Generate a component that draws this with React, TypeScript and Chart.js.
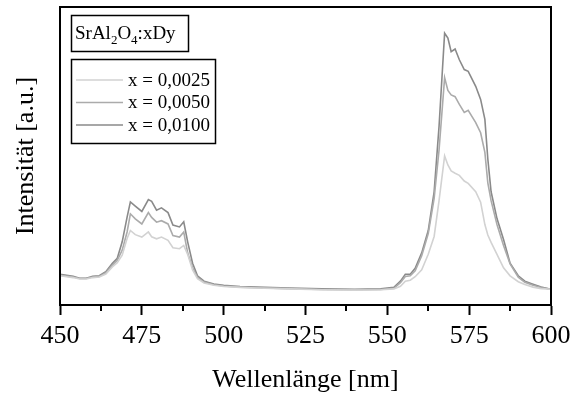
import React, { useEffect, useRef } from "react";
import { Chart, registerables } from "chart.js";

Chart.register(...registerables);

const wavelengths = [
  450, 452, 454, 456, 458, 460, 462, 464, 466, 467.5, 469, 470.5, 471.5, 473, 475, 477, 478, 479.5, 481, 483,
  484.5, 486.5, 487.8, 489, 490.5, 492, 494, 497, 500, 505, 510, 520, 530, 540, 548, 552, 554, 555.5, 557,
  558.5, 560.5, 562.5, 564.3, 565.8, 567.5, 568.5, 569.5, 570.7, 572, 573.5, 574.7, 577, 578.5, 579.8, 580.7,
  581.7, 583.5, 585.5, 587.5, 590, 592, 594.5, 597, 600,
];

const seriesLight = [
  9.8, 9.5, 9.2, 8.7, 8.7, 9.2, 9.4, 10.4, 12.8, 14.2, 16.7, 22.3, 25, 23.6, 22.8, 24.5, 22.9, 22.2, 22.8, 21.7,
  19.2, 18.9, 20, 17, 11.8, 8.8, 7.4, 6.6, 6.2, 5.9, 5.7, 5.4, 5.1, 5.0, 5.1, 5.4, 6.3, 8, 8.3,
  9.5, 11.8, 17, 23, 35, 50, 47, 45, 44.2, 43.5, 41.6, 40.8, 38, 34.5, 27, 23.5,
  21, 17, 12.5, 9.8, 7.8, 6.9, 6, 5.5, 5.3,
];

const seriesMedium = [
  10.0, 9.7, 9.4, 8.9, 8.9, 9.4, 9.6, 10.8, 13.4, 15, 18.4, 24.5, 30.6, 28.9, 27.2, 31, 29.4, 27.8, 28.3, 27.2,
  23.3, 22.8, 24.5, 17.5, 12.5, 9.3, 7.7, 6.8, 6.4, 6.0, 5.8, 5.5, 5.2, 5.1, 5.2, 5.6, 7.5, 9.6, 9.8,
  11.5, 16.5, 24, 35.8, 52, 76.3, 72, 70.5, 69.9, 67.3, 64.6, 65.3, 61.2, 57.8, 51.2, 41,
  35, 27, 20, 13.8, 9.3, 7.6, 6.6, 5.9, 5.3,
];

const seriesDark = [
  10.3, 10.0, 9.6, 9.0, 9.0, 9.6, 9.8, 11.2, 14, 15.7, 21.2, 29.5, 34.6, 33.2, 31.4, 35.4, 34.8, 31.8, 32.6, 31.0,
  26.8, 26.2, 27.9, 21.2, 14, 9.8, 8, 7, 6.6, 6.2, 6.0, 5.7, 5.4, 5.3, 5.4, 5.9, 8.0, 10.3, 10.3,
  12.3, 17.5, 25, 38, 60, 91.2, 89.6, 85, 85.9, 82.3, 79, 78.4, 73.4, 69, 62.3, 49,
  38, 29, 22, 14, 9.8, 8, 7, 6, 5.3,
];

const seriesLabels = ["x = 0,0025", "x = 0,0050", "x = 0,0100"];
const seriesColors = ["#d2d2d2", "#ababab", "#8a8a8a"];
const xTicks = [450, 475, 500, 525, 550, 575, 600];
const xMinorTicks = [462.5, 487.5, 512.5, 537.5, 562.5, 587.5];
const xTitle = "Wellenlänge [nm]";
const yTitle = "Intensität [a.u.]";
const legendTitleParts = [
  { t: "SrAl", sub: false },
  { t: "2", sub: true },
  { t: "O", sub: false },
  { t: "4", sub: true },
  { t: ":xDy", sub: false },
];

const FONT = "'Liberation Serif', 'Times New Roman', serif";

const decorPlugin = {
  id: "decor",
  afterDraw(chart: any) {
    const { ctx, chartArea } = chart;
    const xs = chart.scales.x;
    ctx.save();
    // frame
    ctx.strokeStyle = "#000";
    ctx.lineWidth = 2;
    ctx.strokeRect(chartArea.left, chartArea.top, chartArea.right - chartArea.left, chartArea.bottom - chartArea.top);
    // minor ticks
    ctx.beginPath();
    for (const v of xMinorTicks) {
      const px = Math.round(xs.getPixelForValue(v));
      ctx.moveTo(px, chartArea.bottom);
      ctx.lineTo(px, chartArea.bottom + 6);
    }
    ctx.stroke();

    // legend title box
    ctx.lineWidth = 1.5;
    ctx.strokeRect(71.5, 15.5, 117, 36);
    ctx.fillStyle = "#000";
    ctx.textBaseline = "alphabetic";
    let cx = 75;
    for (const p of legendTitleParts) {
      ctx.font = (p.sub ? "13px " : "19px ") + FONT;
      ctx.fillText(p.t, cx, p.sub ? 44 : 39);
      cx += ctx.measureText(p.t).width;
    }

    // legend box
    ctx.strokeRect(71.5, 59.5, 144, 84);
    ctx.font = "19px " + FONT;
    ctx.textBaseline = "middle";
    chart.data.datasets.forEach((ds: any, i: number) => {
      const y = 80 + i * 22.5;
      ctx.strokeStyle = ds.borderColor;
      ctx.lineWidth = 1.5;
      ctx.beginPath();
      ctx.moveTo(76, y);
      ctx.lineTo(123, y);
      ctx.stroke();
      ctx.fillStyle = "#000";
      ctx.fillText(ds.label, 128, y + 1);
    });
    ctx.restore();
  },
};

export default function App() {
  const ref = useRef<HTMLCanvasElement | null>(null);
  useEffect(() => {
    if (!ref.current) return;
    const mk = (vals: number[]) => wavelengths.map((x, i) => ({ x, y: vals[i] }));
    const all = [seriesLight, seriesMedium, seriesDark];
    const chart = new Chart(ref.current, {
      type: "line",
      data: {
        datasets: all.map((vals, i) => ({
          label: seriesLabels[i],
          data: mk(vals),
          borderColor: seriesColors[i],
          backgroundColor: seriesColors[i],
          borderWidth: 1.6,
          pointRadius: 0,
          tension: 0,
          fill: false,
        })),
      },
      options: {
        animation: false,
        responsive: false,
        devicePixelRatio: 1,
        layout: { padding: { left: 0, right: 28, top: 7, bottom: 0 } },
        plugins: { legend: { display: false }, tooltip: { enabled: false } },
        scales: {
          x: {
            type: "linear",
            min: 450,
            max: 600,
            afterFit: (s: any) => {
              s.height = 91;
            },
            afterBuildTicks: (s: any) => {
              s.ticks = xTicks.map((v) => ({ value: v }));
            },
            ticks: {
              color: "#000",
              padding: 6,
              font: { family: FONT, size: 26 },
              maxRotation: 0,
              autoSkip: false,
            },
            grid: {
              display: true,
              drawOnChartArea: false,
              drawTicks: true,
              tickLength: 10,
              tickWidth: 2,
              tickColor: "#000",
            },
            border: { display: true, color: "#000", width: 2 },
            title: {
              display: true,
              text: xTitle,
              color: "#000",
              font: { family: FONT, size: 26 },
              padding: { top: 0, bottom: 0 },
            },
          },
          y: {
            type: "linear",
            min: 0,
            max: 100,
            afterFit: (s: any) => {
              s.width = 60;
            },
            ticks: { display: false },
            grid: { display: false },
            border: { display: true, color: "#000", width: 2 },
            title: {
              display: true,
              text: yTitle,
              color: "#000",
              font: { family: FONT, size: 26 },
              padding: { top: 11, bottom: 0 },
            },
          },
        },
      },
      plugins: [decorPlugin],
    });
    return () => chart.destroy();
  }, []);
  return (
    <div style={{ position: "absolute", left: 0, top: 0, width: 579, height: 396, background: "#fff" }}>
      <canvas ref={ref} width={579} height={396} style={{ display: "block" }} />
    </div>
  );
}
